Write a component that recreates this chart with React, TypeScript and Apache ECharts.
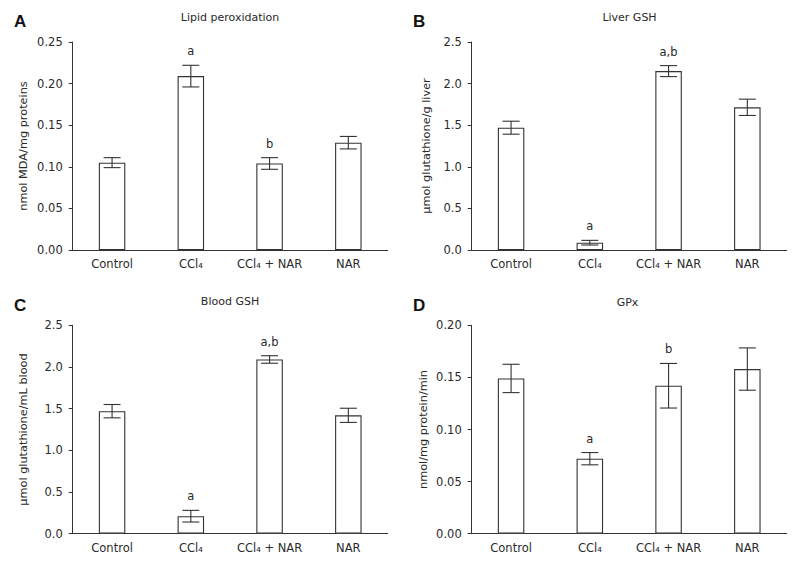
import React, { useEffect, useRef } from "react";
import * as echarts from "echarts";

const categories = ["Control", "CCl\u2084", "CCl\u2084 + NAR", "NAR"];

const lipidMean = [0.105, 0.209, 0.104, 0.129];
const lipidErr = [0.006, 0.013, 0.007, 0.0075];
const lipidMarks = ["", "a", "b", ""];

const liverMean = [1.47, 0.088, 2.15, 1.715];
const liverErr = [0.078, 0.028, 0.066, 0.098];
const liverMarks = ["", "a", "a,b", ""];

const bloodMean = [1.47, 0.21, 2.09, 1.42];
const bloodErr = [0.08, 0.07, 0.045, 0.085];
const bloodMarks = ["", "a", "a,b", ""];

const gpxMean = [0.149, 0.072, 0.142, 0.158];
const gpxErr = [0.0136, 0.0059, 0.0214, 0.0203];
const gpxMarks = ["", "a", "b", ""];

const panels = [
  { letter: "A", title: "Lipid peroxidation", yName: "nmol MDA/mg proteins", mean: lipidMean, err: lipidErr, marks: lipidMarks, max: 0.25, interval: 0.05, dec: 2, left: 72.7, top: 42, height: 208, nameGap: 44, titleX: 230, titleY: 12, letterX: 14, letterY: 13 },
  { letter: "B", title: "Liver GSH", yName: "\u03bcmol glutathione/g liver", mean: liverMean, err: liverErr, marks: liverMarks, max: 2.5, interval: 0.5, dec: 1, left: 471.7, top: 42, height: 208, nameGap: 40, titleX: 629.5, titleY: 12, letterX: 413, letterY: 13 },
  { letter: "C", title: "Blood GSH", yName: "\u03bcmol glutathione/mL blood", mean: bloodMean, err: bloodErr, marks: bloodMarks, max: 2.5, interval: 0.5, dec: 1, left: 72.7, top: 325.3, height: 208.4, nameGap: 44, titleX: 230, titleY: 296, letterX: 14, letterY: 297 },
  { letter: "D", title: "GPx", yName: "nmol/mg protein/min", mean: gpxMean, err: gpxErr, marks: gpxMarks, max: 0.2, interval: 0.05, dec: 2, left: 471.7, top: 325.3, height: 208.4, nameGap: 43, titleX: 627.5, titleY: 297, letterX: 413, letterY: 297 },
];

const FONT = "DejaVu Sans";
const INK = "#2a2a2a";
const LINE = "#333";

export default function App() {
  const ref = useRef<HTMLDivElement>(null);
  useEffect(() => {
    if (!ref.current) return;
    const chart = echarts.init(ref.current, null, { renderer: "svg" });
    const grid: any[] = [];
    const xAxis: any[] = [];
    const yAxis: any[] = [];
    const series: any[] = [];
    const title: any[] = [];
    const graphic: any[] = [];
    panels.forEach((p, i) => {
      grid.push({ left: p.left, top: p.top, width: 315, height: p.height, containLabel: false });
      xAxis.push({
        type: "category",
        gridIndex: i,
        data: categories,
        boundaryGap: true,
        axisLine: { lineStyle: { color: LINE, width: 1 } },
        axisTick: { show: false },
        axisLabel: { color: INK, fontFamily: FONT, fontSize: 11.5, margin: 8, interval: 0 },
        splitLine: { show: false },
      });
      yAxis.push({
        type: "value",
        gridIndex: i,
        min: 0,
        max: p.max,
        interval: p.interval,
        name: p.yName,
        nameLocation: "middle",
        nameRotate: 90,
        nameGap: p.nameGap,
        nameTextStyle: { color: INK, fontFamily: FONT, fontSize: 11.3 },
        axisLine: { show: true, lineStyle: { color: LINE, width: 1 } },
        axisTick: { show: true, length: 4, lineStyle: { color: LINE } },
        axisLabel: {
          color: INK,
          fontFamily: FONT,
          fontSize: 11.5,
          margin: 10,
          formatter: (v: number) => v.toFixed(p.dec),
        },
        splitLine: { show: false },
      });
      series.push({
        type: "bar",
        xAxisIndex: i,
        yAxisIndex: i,
        data: p.mean,
        barWidth: 26.5,
        itemStyle: { color: "#fff", borderColor: LINE, borderWidth: 1.1 },
        z: 2,
      });
      series.push({
        type: "custom",
        xAxisIndex: i,
        yAxisIndex: i,
        z: 3,
        data: p.mean.map((m, k) => [k, m, p.err[k]]),
        encode: { x: 0, y: 1 },
        renderItem: (params: any, api: any) => {
          const idx = api.value(0);
          const m = api.value(1);
          const e = api.value(2);
          const t = api.coord([idx, m + e]);
          const b = api.coord([idx, m - e]);
          const half = 8.5;
          const style = { stroke: LINE, lineWidth: 1.1 };
          const children: any[] = [
            { type: "line", shape: { x1: t[0], y1: t[1], x2: b[0], y2: b[1] }, style },
            { type: "line", shape: { x1: t[0] - half, y1: t[1], x2: t[0] + half, y2: t[1] }, style },
            { type: "line", shape: { x1: b[0] - half, y1: b[1], x2: b[0] + half, y2: b[1] }, style },
          ];
          const mark = p.marks[params.dataIndex];
          if (mark) {
            children.push({
              type: "text",
              style: {
                text: mark,
                x: t[0],
                y: t[1] - 14,
                align: "center",
                verticalAlign: "middle",
                fill: INK,
                font: `11.5px "${FONT}"`,
              },
            });
          }
          return { type: "group", children };
        },
      });
      title.push({
        text: p.title,
        left: p.titleX,
        top: p.titleY,
        textAlign: "center",
        padding: 0,
        textStyle: { color: INK, fontFamily: FONT, fontSize: 11, fontWeight: "normal" },
      });
      graphic.push({
        type: "text",
        left: p.letterX,
        top: p.letterY,
        style: { text: p.letter, fill: "#111", font: 'bold 17px "Liberation Sans"' },
      });
    });
    chart.setOption({
      animation: false,
      backgroundColor: "#fff",
      title,
      grid,
      xAxis,
      yAxis,
      series,
      graphic,
    });
    return () => chart.dispose();
  }, []);
  return <div ref={ref} style={{ position: "fixed", left: 0, top: 0, width: 800, height: 564 }} />;
}
